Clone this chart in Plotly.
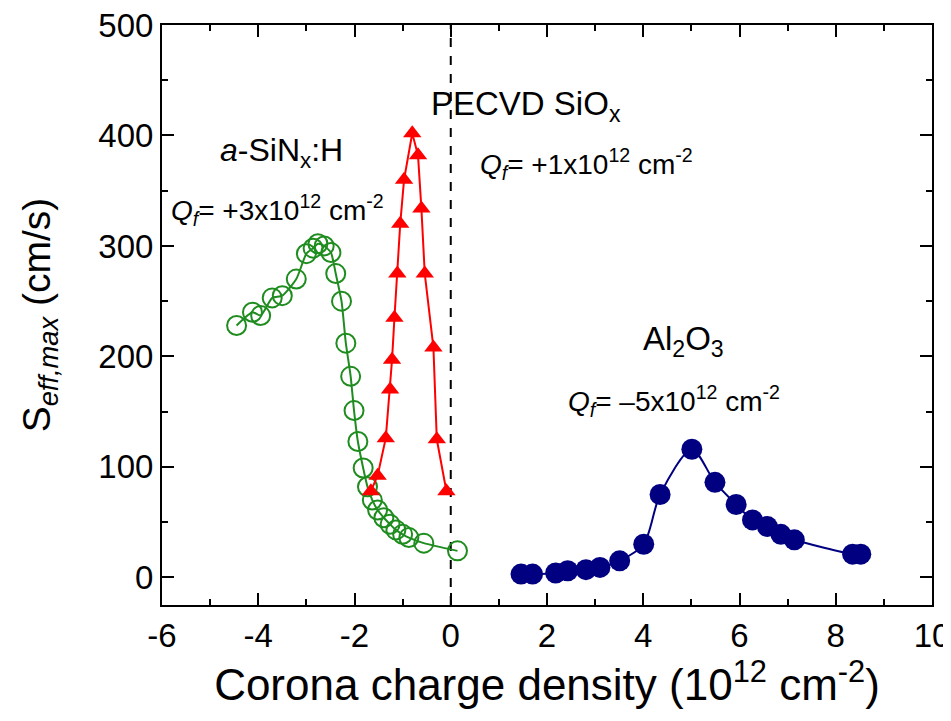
import plotly.graph_objects as go

# ---- data ----
sin_x = [-4.45, -4.12, -3.95, -3.71, -3.50, -3.21, -3.00, -2.86, -2.76, -2.63, -2.49, -2.39, -2.27,
         -2.18, -2.08, -2.01, -1.93, -1.82, -1.73, -1.63, -1.52, -1.39, -1.26, -1.14, -1.00, -0.87,
         -0.56, 0.14]
sin_y = [228, 240, 237, 253, 255, 270, 293, 298, 302, 300, 294, 275, 250,
         212, 182, 151, 123, 99, 82, 70, 61, 54, 48, 43, 39, 36,
         31, 24]

sio_x = [-1.66, -1.52, -1.35, -1.26, -1.22, -1.17, -1.11, -1.05, -0.97, -0.80,
         -0.68, -0.61, -0.54, -0.36, -0.29, -0.09]
sio_y = [78, 92, 126, 170, 197, 235, 275, 320, 360, 402,
         382, 334, 275, 208, 125, 78]

al_x = [1.46, 1.70, 2.18, 2.43, 2.81, 3.10, 3.51, 4.01, 4.35, 5.01,
        5.49, 5.93, 6.27, 6.58, 6.86, 7.14, 8.35, 8.52]
al_y = [3, 3, 4, 6, 7, 9, 15, 30, 75, 116,
        86, 66, 52, 46, 39, 34, 21, 21]

x_tickvals = [-6, -4, -2, 0, 2, 4, 6, 8, 10]
x_ticktext = ["-6", "-4", "-2", "0", "2", "4", "6", "8", "10"]
y_tickvals = [0, 100, 200, 300, 400, 500]

FONT = "Liberation Sans, Arial, sans-serif"
GREEN = "#1f8c1f"
RED = "#ff0000"
NAVY = "#000080"

fig = go.Figure()
fig.add_trace(go.Scatter(
    x=sin_x, y=sin_y, mode="lines+markers", name="a-SiNx:H",
    line=dict(color=GREEN, width=2, shape="spline", smoothing=0.6),
    marker=dict(symbol="circle-open", size=19, color=GREEN, line=dict(width=2, color=GREEN)),
))
fig.add_trace(go.Scatter(
    x=sio_x, y=sio_y, mode="lines+markers", name="PECVD SiOx",
    line=dict(color=RED, width=2),
    marker=dict(symbol="triangle-up", size=16, color=RED),
))
fig.add_trace(go.Scatter(
    x=al_x, y=al_y, mode="lines+markers", name="Al2O3",
    line=dict(color=NAVY, width=2, shape="spline", smoothing=0.8),
    marker=dict(symbol="circle", size=21, color=NAVY),
))

fig.add_shape(type="line", x0=0, x1=0, y0=0, y1=1, xref="x", yref="paper",
              line=dict(color="black", width=2, dash="dash"), layer="below")

ann = [
    ("<i>a</i>-SiN<sub>x</sub>:H", -4.84, 385, 32),
    ("<i>Q</i><sub><i>f</i></sub>= +3x10<sup>12</sup> cm<sup>-2</sup>", -5.86, 333, 28),
    ("PECVD SiO<sub>x</sub>", -0.46, 427, 33),
    ("<i>Q</i><sub><i>f</i></sub>= +1x10<sup>12</sup> cm<sup>-2</sup>", 0.56, 374, 28),
    ("Al<sub>2</sub>O<sub>3</sub>", 3.96, 214, 33),
    ("<i>Q</i><sub><i>f</i></sub>= \u20135x10<sup>12</sup> cm<sup>-2</sup>", 2.40, 160, 28),
]
for text, ax, ay, fs in ann:
    fig.add_annotation(x=ax, y=ay, xref="x", yref="y", text=text, showarrow=False,
                       xanchor="left", yanchor="middle",
                       font=dict(family=FONT, size=fs, color="black"))

axis_common = dict(
    showline=True, linecolor="black", linewidth=2, mirror="ticks",
    ticks="inside", ticklen=12, tickwidth=2, tickcolor="black",
    showgrid=False, zeroline=False, automargin=False,
    ticklabeloverflow="allow",
    tickfont=dict(family=FONT, size=33, color="black"),
)

fig.update_xaxes(
    range=[-6, 10], tickvals=x_tickvals, ticktext=x_ticktext,
    minor=dict(ticks="inside", ticklen=6, tickwidth=2, tickcolor="black", dtick=1, tick0=0),
    title=dict(text="Corona charge density (10<sup>12</sup> cm<sup>-2</sup>)",
               font=dict(family=FONT, size=44, color="black"), standoff=12),
    **axis_common,
)
fig.update_yaxes(
    range=[-25, 500], tickvals=y_tickvals,
    minor=dict(ticks="inside", ticklen=6, tickwidth=2, tickcolor="black", dtick=50, tick0=0),
    title=dict(text="S<sub><i>eff,max</i></sub> (cm/s)",
               font=dict(family=FONT, size=39, color="black"), standoff=36),
    **axis_common,
)

# page body has an 8px default margin: figure sized/offset to land the plot frame
# at x 162..932, y 25..605 in the 951x721 window
fig.update_layout(
    width=943, height=713,
    margin=dict(l=154, r=19, t=17, b=116),
    paper_bgcolor="white", plot_bgcolor="white",
    showlegend=False,
    font=dict(family=FONT, color="black"),
)

fig.write_html("out.html")
